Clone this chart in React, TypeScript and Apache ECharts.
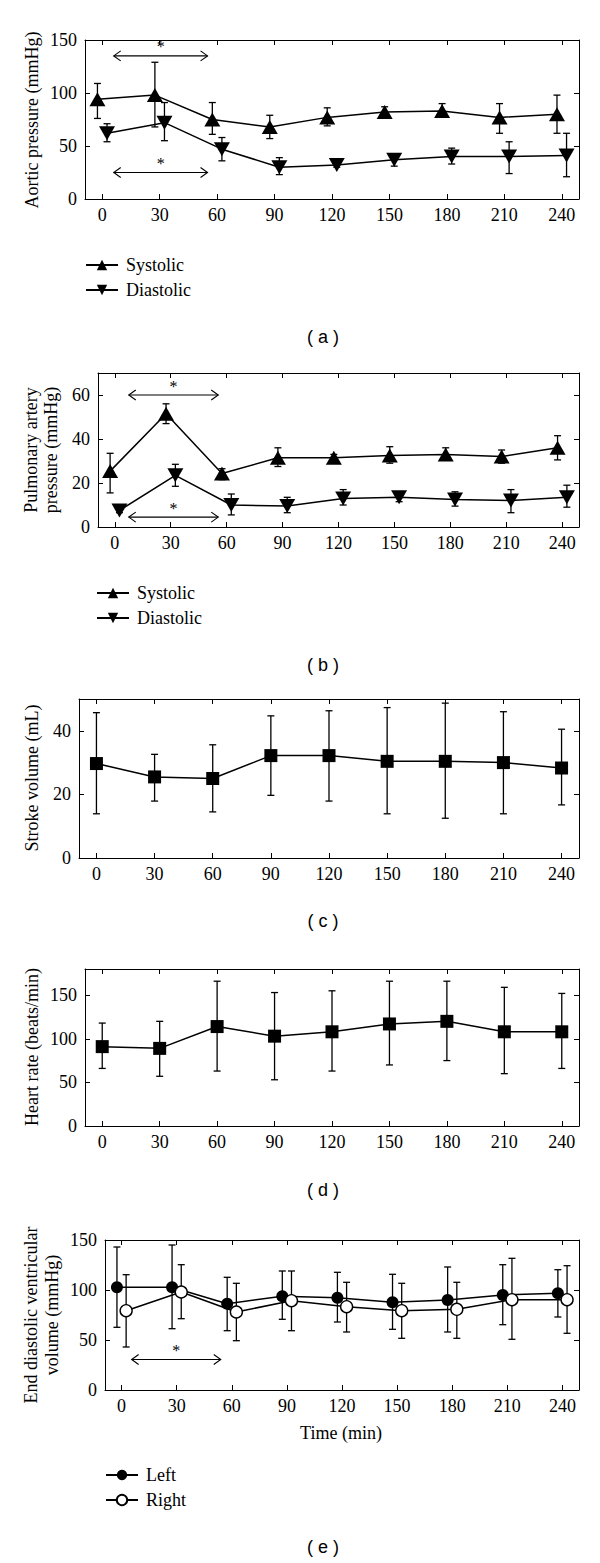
import React, { useEffect, useRef } from "react";
import * as echarts from "echarts";

// ---------- data ----------
const TIMES = [0, 30, 60, 90, 120, 150, 180, 210, 240];
const X_TICK_LABELS = [0, 30, 60, 90, 120, 150, 180, 210, 240];

// (a) Aortic pressure (mmHg)
const aorticSys = [94, 98, 75, 68, 77, 82, 83, 77, 80];
const aorticSysUpper = [109, 129, 91, 79, 86, 87, 90, 90, 98];
const aorticSysLower = [76, 68, 61, 57, 69, 77, 77, 62, 62];
const aorticDia = [62, 72, 47, 30, 32, 37, 40, 40, 41];
const aorticDiaUpper = [71, 91, 58, 39, 34, 41, 48, 54, 62];
const aorticDiaLower = [54, 55, 36, 23, 30, 31, 33, 24, 21];
const aorticYTicks = [0, 50, 100, 150];
const aorticArrows = [
  [6, 55, 135],
  [6, 55, 25],
];

// (b) Pulmonary artery pressure (mmHg)
const pulmSys = [25.4, 51.5, 24.3, 31.5, 31.5, 32.5, 33, 32, 36];
const pulmSysUpper = [33.5, 56, 26.5, 36, 33, 36.5, 36, 35, 41.5];
const pulmSysLower = [15.5, 47, 21.5, 27.5, 30, 29, 31.5, 29, 30.5];
const pulmDia = [7.5, 23.5, 10, 9.5, 13, 13.5, 12.5, 12, 13.5];
const pulmDiaUpper = [8.5, 28.5, 15, 13.5, 17, 15.5, 16, 17, 19];
const pulmDiaLower = [6.5, 18.5, 5.5, 6.5, 10, 11.5, 9.5, 6.5, 9];
const pulmYTicks = [0, 20, 40, 60];
const pulmArrows = [
  [7.5, 55.5, 60],
  [7.5, 55.5, 4.5],
];

// (c) Stroke volume (mL)
const strokeVol = [29.7, 25.5, 25, 32.2, 32.2, 30.4, 30.4, 30, 28.3];
const strokeVolUpper = [45.7, 32.6, 35.6, 44.7, 46.3, 47.3, 48.7, 46, 40.5];
const strokeVolLower = [13.9, 17.9, 14.5, 19.7, 17.9, 13.9, 12.5, 13.9, 16.7];
const strokeYTicks = [0, 20, 40];

// (d) Heart rate (beats/min)
const heartRate = [91, 89, 114, 103, 108, 117, 120, 108, 108];
const heartRateUpper = [118, 120, 166, 153, 155, 166, 166, 159, 152];
const heartRateLower = [66, 57, 63, 53, 63, 70, 75, 60, 66];
const heartYTicks = [0, 50, 100, 150];

// (e) End diastolic ventricular volume
const edvLeft = [102.7, 102.7, 86.3, 93.7, 92.3, 87.7, 90, 95, 96.7];
const edvLeftUpper = [143, 145, 112.7, 119, 117.7, 115.7, 123, 125.3, 120.3];
const edvLeftLower = [62.7, 61.3, 59.3, 70.7, 68, 60.7, 58, 65.3, 73];
const edvRight = [79.3, 98, 78, 89.3, 83.3, 79.3, 80.7, 90.3, 90.3];
const edvRightUpper = [115.3, 125.3, 106.7, 119, 107.7, 106.7, 107.7, 131.7, 124.3];
const edvRightLower = [43, 71.3, 49.3, 59.3, 58, 51.7, 51.7, 50.7, 56.7];
const edvYTicks = [0, 50, 100, 150];
const edvArrows = [[5.5, 54, 30.5]];

// ---------- style ----------
const SERIF = '"Liberation Serif", "Times New Roman", serif';
const SANS = '"Liberation Sans", Arial, sans-serif';
const FS = 18;
const LW = 1.5;
const X_MIN = -9;
const X_MAX = 249;
const JITTER = 2.5;

type SeriesSpec = {
  name: string;
  values: number[];
  upper: number[];
  lower: number[];
  jitter: number;
  symbol: string;
  size: number | number[];
  rotate: number;
  fill: string;
};

type PanelSpec = {
  grid: { left: number; top: number; width: number; height: number };
  yMax: number;
  yTicks: number[];
  series: SeriesSpec[];
  arrows: number[][];
  labelMargin: number;
};

const TRI: number[] = [16, 14];

const panels: PanelSpec[] = [
  {
    grid: { left: 85, top: 40, width: 494, height: 159 },
    yMax: 150,
    yTicks: aorticYTicks,
    labelMargin: 7,
    arrows: aorticArrows,
    series: [
      { name: "Systolic", values: aorticSys, upper: aorticSysUpper, lower: aorticSysLower, jitter: -JITTER, symbol: "triangle", size: TRI, rotate: 0, fill: "#000" },
      { name: "Diastolic", values: aorticDia, upper: aorticDiaUpper, lower: aorticDiaLower, jitter: JITTER, symbol: "triangle", size: TRI, rotate: 180, fill: "#000" },
    ],
  },
  {
    grid: { left: 98, top: 373, width: 481, height: 154 },
    yMax: 70,
    yTicks: pulmYTicks,
    labelMargin: 7,
    arrows: pulmArrows,
    series: [
      { name: "Systolic", values: pulmSys, upper: pulmSysUpper, lower: pulmSysLower, jitter: -JITTER, symbol: "triangle", size: TRI, rotate: 0, fill: "#000" },
      { name: "Diastolic", values: pulmDia, upper: pulmDiaUpper, lower: pulmDiaLower, jitter: JITTER, symbol: "triangle", size: TRI, rotate: 180, fill: "#000" },
    ],
  },
  {
    grid: { left: 79, top: 699, width: 500, height: 159 },
    yMax: 50,
    yTicks: strokeYTicks,
    labelMargin: 7,
    arrows: [],
    series: [
      { name: "Stroke volume", values: strokeVol, upper: strokeVolUpper, lower: strokeVolLower, jitter: 0, symbol: "rect", size: 13, rotate: 0, fill: "#000" },
    ],
  },
  {
    grid: { left: 85, top: 969, width: 494, height: 157 },
    yMax: 180,
    yTicks: heartYTicks,
    labelMargin: 7,
    arrows: [],
    series: [
      { name: "Heart rate", values: heartRate, upper: heartRateUpper, lower: heartRateLower, jitter: 0, symbol: "rect", size: 13, rotate: 0, fill: "#000" },
    ],
  },
  {
    grid: { left: 105, top: 1240, width: 474, height: 150 },
    yMax: 150,
    yTicks: edvYTicks,
    labelMargin: 7,
    arrows: edvArrows,
    series: [
      { name: "Left", values: edvLeft, upper: edvLeftUpper, lower: edvLeftLower, jitter: -JITTER, symbol: "circle", size: 12, rotate: 0, fill: "#000" },
      { name: "Right", values: edvRight, upper: edvRightUpper, lower: edvRightLower, jitter: JITTER, symbol: "circle", size: 12, rotate: 0, fill: "#fff" },
    ],
  },
];

const errorBarRender = (params: any, api: any) => {
  const x = api.value(0);
  const lo = api.value(1);
  const hi = api.value(2);
  const pHi = api.coord([x, hi]);
  const pLo = api.coord([x, lo]);
  const w = 3.5;
  const style = { stroke: "#000", lineWidth: 1.3, fill: null };
  return {
    type: "group",
    children: [
      { type: "line", shape: { x1: pHi[0], y1: pHi[1], x2: pLo[0], y2: pLo[1] }, style },
      { type: "line", shape: { x1: pHi[0] - w, y1: pHi[1], x2: pHi[0] + w, y2: pHi[1] }, style },
      { type: "line", shape: { x1: pLo[0] - w, y1: pLo[1], x2: pLo[0] + w, y2: pLo[1] }, style },
    ],
  };
};

const arrowRender = (params: any, api: any) => {
  const x1 = api.value(0);
  const x2 = api.value(1);
  const y = api.value(2);
  const p1 = api.coord([x1, y]);
  const p2 = api.coord([x2, y]);
  const style = { stroke: "#000", lineWidth: 1.1, fill: null };
  const hx = 7;
  const hy = 5;
  return {
    type: "group",
    children: [
      { type: "line", shape: { x1: p1[0], y1: p1[1], x2: p2[0], y2: p2[1] }, style },
      { type: "polyline", shape: { points: [[p1[0] + hx, p1[1] - hy], [p1[0], p1[1]], [p1[0] + hx, p1[1] + hy]] }, style },
      { type: "polyline", shape: { points: [[p2[0] - hx, p2[1] - hy], [p2[0], p2[1]], [p2[0] - hx, p2[1] + hy]] }, style },
      {
        type: "text",
        x: (p1[0] + p2[0]) / 2,
        y: p1[1] - 1,
        style: { text: "*", fill: "#000", font: `16px ${SERIF}`, align: "center", verticalAlign: "bottom" },
      },
    ],
  };
};

function buildOption() {
  const grid: any[] = [];
  const xAxis: any[] = [];
  const yAxis: any[] = [];
  const series: any[] = [];
  const axisLine = { show: true, onZero: false, lineStyle: { color: "#000", width: 1 } };
  const tickStyle = { color: "#000", width: 1 };
  const labelStyle = { color: "#000", fontFamily: SERIF, fontSize: FS };

  panels.forEach((p, i) => {
    grid.push({ ...p.grid, containLabel: false, show: false });
    xAxis.push({
      gridIndex: i, type: "value", min: X_MIN, max: X_MAX, position: "bottom",
      axisLine, splitLine: { show: false },
      axisTick: { show: true, inside: true, length: 5, customValues: X_TICK_LABELS, lineStyle: tickStyle },
      axisLabel: { show: true, customValues: X_TICK_LABELS, margin: p.labelMargin, ...labelStyle },
    });
    xAxis.push({
      gridIndex: i, type: "value", min: X_MIN, max: X_MAX, position: "top",
      axisLine, splitLine: { show: false },
      axisTick: { show: true, inside: true, length: 5, customValues: X_TICK_LABELS, lineStyle: tickStyle },
      axisLabel: { show: false },
    });
    yAxis.push({
      gridIndex: i, type: "value", min: 0, max: p.yMax, position: "left",
      axisLine, splitLine: { show: false },
      axisTick: { show: true, inside: true, length: 5, customValues: p.yTicks, lineStyle: tickStyle },
      axisLabel: { show: true, customValues: p.yTicks, margin: 8, ...labelStyle },
    });
    yAxis.push({
      gridIndex: i, type: "value", min: 0, max: p.yMax, position: "right",
      axisLine, splitLine: { show: false },
      axisTick: { show: true, inside: true, length: 5, customValues: p.yTicks, lineStyle: tickStyle },
      axisLabel: { show: false },
    });

    p.series.forEach((s, k) => {
      series.push({
        type: "custom",
        name: `${s.name}-err-${i}`,
        xAxisIndex: 2 * i,
        yAxisIndex: 2 * i,
        silent: true,
        z: 2,
        encode: { x: 0, y: [1, 2] },
        data: TIMES.map((t, j) => [t + s.jitter, s.lower[j], s.upper[j]]),
        renderItem: errorBarRender,
      });
      series.push({
        type: "line",
        name: s.name,
        xAxisIndex: 2 * i,
        yAxisIndex: 2 * i,
        z: 3 + k,
        symbol: s.symbol,
        symbolSize: s.size,
        symbolRotate: s.rotate,
        showSymbol: true,
        lineStyle: { color: "#000", width: LW },
        itemStyle: { color: s.fill, borderColor: "#000", borderWidth: s.fill === "#fff" ? 1.4 : 0 },
        data: TIMES.map((t, j) => [t + s.jitter, s.values[j]]),
      });
    });

    if (p.arrows.length) {
      series.push({
        type: "custom",
        name: `arrows-${i}`,
        xAxisIndex: 2 * i,
        yAxisIndex: 2 * i,
        silent: true,
        z: 2,
        encode: { x: [0, 1], y: 2 },
        data: p.arrows,
        renderItem: arrowRender,
      });
    }
  });

  const legendBase = {
    orient: "vertical",
    padding: 0,
    itemWidth: 32,
    itemHeight: 13,
    itemGap: 7,
    selectedMode: false,
    textStyle: { color: "#000", fontFamily: SERIF, fontSize: FS, lineHeight: 18, padding: [0, 0, 0, 3] },
  };

  const legend = [
    { ...legendBase, left: 85, top: 256, data: ["Systolic", "Diastolic"] },
    { ...legendBase, left: 96, top: 584, data: ["Systolic", "Diastolic"] },
    { ...legendBase, left: 105, top: 1466, data: ["Left", "Right"] },
  ];

  const vText = (text: string, x: number, y: number) => ({
    type: "text",
    x,
    y,
    rotation: Math.PI / 2,
    style: { text, fill: "#000", font: `${FS}px ${SERIF}`, align: "center", verticalAlign: "middle" },
  });
  const hText = (text: string, x: number, y: number, font: string) => ({
    type: "text",
    x,
    y,
    style: { text, fill: "#000", font, align: "center", verticalAlign: "middle" },
  });

  const graphic = [
    vText("Aortic pressure (mmHg)", 32, 120),
    vText("Pulmonary artery", 31, 450),
    vText("pressure (mmHg)", 51, 450),
    vText("Stroke volume (mL)", 32, 778),
    vText("Heart rate (beats/min)", 32, 1047),
    vText("End diastolic ventricular", 31, 1315),
    vText("volume (mmHg)", 52, 1315),
    hText("Time (min)", 341, 1433, `${FS}px ${SERIF}`),
    hText("( a )", 323, 337, `18px ${SANS}`),
    hText("( b )", 323, 665, `18px ${SANS}`),
    hText("( c )", 323, 921, `18px ${SANS}`),
    hText("( d )", 323, 1190, `18px ${SANS}`),
    hText("( e )", 323, 1547, `18px ${SANS}`),
  ];

  return {
    animation: false,
    backgroundColor: "#fff",
    grid,
    xAxis,
    yAxis,
    series,
    legend,
    graphic,
  };
}

export default function App() {
  const ref = useRef<HTMLDivElement>(null);
  useEffect(() => {
    document.body.style.margin = "0";
    if (!ref.current) return;
    const chart = echarts.init(ref.current, undefined, { renderer: "svg" });
    chart.setOption(buildOption() as any);
    return () => chart.dispose();
  }, []);
  return <div ref={ref} style={{ width: 600, height: 1563, background: "#fff" }} />;
}
